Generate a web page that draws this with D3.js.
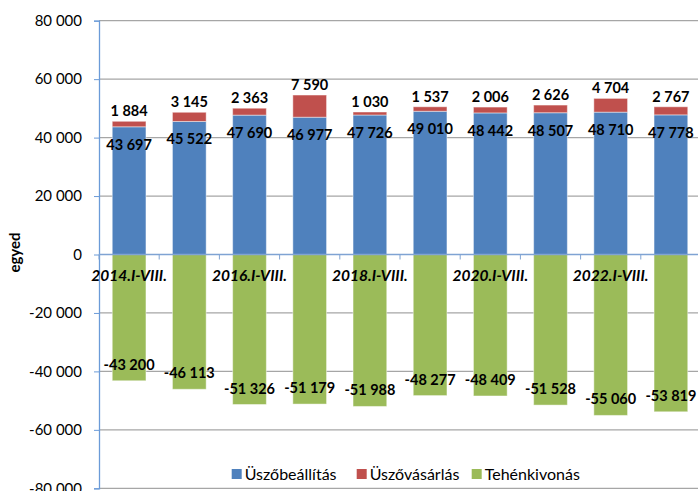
<!DOCTYPE html>
<html>
<head>
<meta charset="utf-8">
<script src="https://d3js.org/d3.v7.min.js"></script>
<style>
  body { margin: 0; background: #fff; }
  svg text { font-family: Lato, "Open Sans", sans-serif; fill: #000; }
</style>
</head>
<body>
<svg id="chart" width="698" height="491"></svg>
<script>
// data
var periods = ["2014.I-VIII.", "2015.I-VIII.", "2016.I-VIII.", "2017.I-VIII.", "2018.I-VIII.",
               "2019.I-VIII.", "2020.I-VIII.", "2021.I-VIII.", "2022.I-VIII.", "2023.I-VIII."];
var uszobeallitas = [43697, 45522, 47690, 46977, 47726, 49010, 48442, 48507, 48710, 47778];
var uszovasarlas = [1884, 3145, 2363, 7590, 1030, 1537, 2006, 2626, 4704, 2767];
var tehenkivonas = [-43200, -46113, -51326, -51179, -51988, -48277, -48409, -51528, -55060, -53819];
var seriesNames = ["Üszőbeállítás", "Üszővásárlás", "Tehénkivonás"];
var yTicks = [-80000, -60000, -40000, -20000, 0, 20000, 40000, 60000, 80000];

var colors = ["#4f81bd", "#c0504d", "#9bbb59"];
var fmt = function(v) {
  var s = d3.format(",")(Math.abs(v)).replace(/,/g, " ");
  return (v < 0 ? "-" : "") + s;
};

var svg = d3.select("#chart");
var plotLeft = 99, plotRight = 701, plotTop = 20.7, plotBottom = 488.3;

var x = d3.scaleBand().domain(periods).range([plotLeft, plotRight])
  .paddingInner(0.44).paddingOuter(0.22);
var y = d3.scaleLinear().domain([-80000, 80000]).range([plotBottom, plotTop]);

// gridlines
svg.append("g").selectAll("line")
  .data(yTicks.filter(function(d) { return d !== 0; }))
  .enter().append("line")
  .attr("x1", plotLeft).attr("x2", 698)
  .attr("y1", function(d) { return y(d); })
  .attr("y2", function(d) { return y(d); })
  .attr("stroke", "#a6a6a6").attr("stroke-width", 1.3);

// y axis
var yAxis = svg.append("g")
  .attr("transform", "translate(" + plotLeft + ",0)")
  .call(d3.axisLeft(y).tickValues(yTicks).tickSize(5).tickPadding(12).tickFormat(fmt));
yAxis.select(".domain").attr("stroke", "#6b9bd8").attr("stroke-width", 1.3);
yAxis.selectAll(".tick line").attr("stroke", "#6b9bd8");
yAxis.selectAll(".tick text").style("font-size", "15px").attr("fill", "#000");

// stacked bars
var rows = periods.map(function(p, i) {
  return { p: p, a: uszobeallitas[i], b: uszovasarlas[i], c: tehenkivonas[i] };
});
var g = svg.append("g");
var bw = x.bandwidth();
rows.forEach(function(d) {
  var x0 = x(d.p);
  g.append("rect").attr("x", x0).attr("width", bw)
    .attr("y", y(d.a)).attr("height", y(0) - y(d.a)).attr("fill", colors[0]);
  g.append("rect").attr("x", x0).attr("width", bw)
    .attr("y", y(d.a + d.b)).attr("height", y(d.a) - y(d.a + d.b)).attr("fill", colors[1]);
  g.append("rect").attr("x", x0).attr("width", bw)
    .attr("y", y(0)).attr("height", y(d.c) - y(0)).attr("fill", colors[2]);
});
g.selectAll("rect").attr("stroke", "rgba(255,255,255,0.45)").attr("stroke-width", 1);

// x axis at zero
var xAxis = svg.append("g")
  .attr("transform", "translate(0," + y(0) + ")");
xAxis.append("line").attr("x1", plotLeft).attr("x2", 698).attr("y1", 0).attr("y2", 0)
  .attr("stroke", "#7fa3d3").attr("stroke-width", 1.3);
var step = x.step();
xAxis.selectAll(".xt").data(d3.range(periods.length + 1)).enter().append("line")
  .attr("x1", function(i) { return x(periods[0]) - (step - bw) / 2 + i * step; })
  .attr("x2", function(i) { return x(periods[0]) - (step - bw) / 2 + i * step; })
  .attr("y1", 0).attr("y2", 5).attr("stroke", "#7fa3d3");
xAxis.selectAll(".xl").data(periods.filter(function(d, i) { return i % 2 === 0; }))
  .enter().append("text")
  .attr("x", function(d) { return x(d) + bw / 2; })
  .attr("y", 26)
  .attr("text-anchor", "middle")
  .style("font-size", "15.5px").style("font-weight", "bold").style("font-style", "italic")
  .text(function(d) { return d; });

// data labels
var lab = svg.append("g").style("font-size", "14.5px").style("font-weight", "bold")
  .attr("text-anchor", "middle");
rows.forEach(function(d) {
  var cx = x(d.p) + bw / 2;
  lab.append("text").attr("x", cx).attr("y", y(d.a) + 23).text(fmt(d.a));
  lab.append("text").attr("x", cx).attr("y", y(d.a + d.b) - 5).text(fmt(d.b));
  lab.append("text").attr("x", cx).attr("y", y(d.c) - 11).text(fmt(d.c));
});

// y title
svg.append("text")
  .attr("transform", "translate(20,252.5) rotate(-90)")
  .attr("text-anchor", "middle")
  .style("font-size", "15px").style("font-weight", "bold")
  .text("egyed");

// legend
var legX = [231.7, 356.7, 471.7];
var leg = svg.append("g");
seriesNames.forEach(function(name, i) {
  leg.append("rect").attr("x", legX[i]).attr("y", 469).attr("width", 10).attr("height", 10)
    .attr("fill", colors[i]);
  leg.append("text").attr("x", legX[i] + 13).attr("y", 479.5)
    .style("font-size", "16px").text(name);
});
</script>
</body>
</html>
